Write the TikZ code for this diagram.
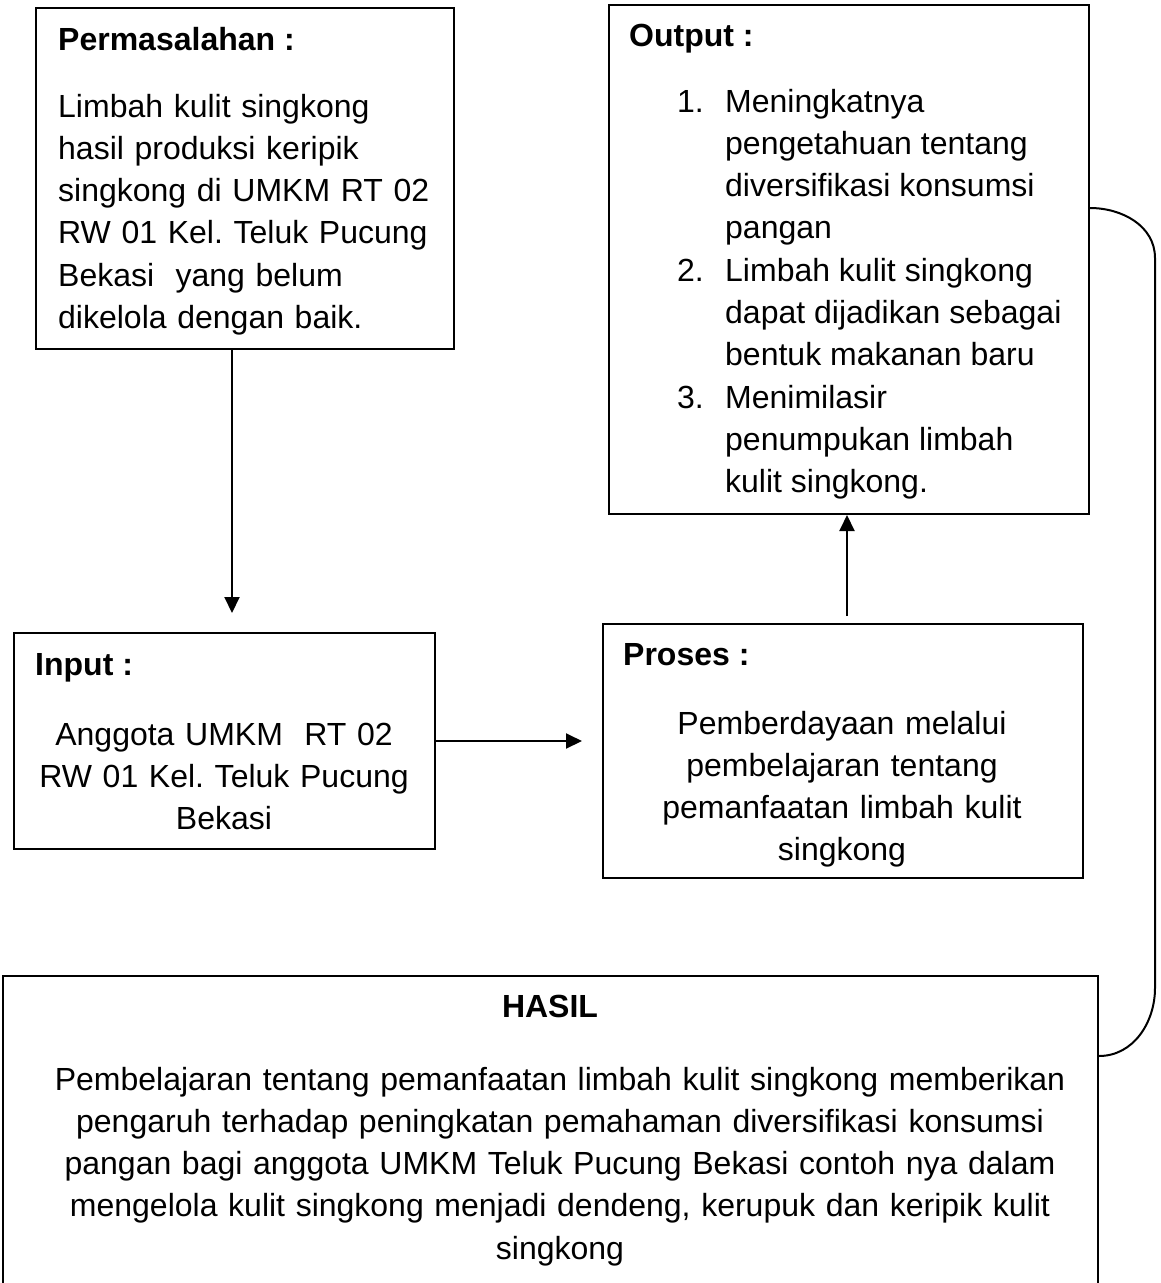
\documentclass[tikz,border=0pt]{standalone}
\usepackage{fontspec}
\setmainfont{Liberation Sans}
\usetikzlibrary{arrows.meta, positioning}
\frenchspacing

\begin{document}
\begin{tikzpicture}[
  x=1pt, y=-1pt,
  font=\fontsize{32}{42.3}\selectfont,
  >={Triangle[length=16pt, width=15pt]},
  box/.style={draw, line width=2pt, anchor=north west, inner sep=0pt},
  head/.style={anchor=base west, inner sep=0pt,
               font=\fontsize{32}{42.3}\selectfont\bfseries},
  body/.style={anchor=base west, inner sep=0pt, text width=#1, align=left},
  midtext/.style={anchor=base, inner sep=0pt, text width=#1, align=center},
  arr/.style={->, line width=2pt},
  ]
\useasboundingbox (0,0) rectangle (1160,1283);
\clip (0,0) rectangle (1160,1283);

% kotak
\node[box, minimum width=418, minimum height=341] (masalah) at (35,7) {};
\node[box, minimum width=480, minimum height=509] (output) at (608,4) {};
\node[box, minimum width=421, minimum height=216] (input) at (13,632) {};
\node[box, minimum width=480, minimum height=254] (proses) at (602,623) {};
\node[box, minimum width=1095, minimum height=400] (hasil) at (2,975) {};

% teks
\node[head] (masalahHead) at (58,50) {Permasalahan :};
\node[body=390] (masalahText) at (58,117) {Limbah kulit singkong\\
  hasil produksi keripik\\
  singkong di UMKM RT 02\\
  RW 01 Kel. Teluk Pucung\\
  Bekasi~ yang belum\\
  dikelola dengan baik.};

\node[head] (outputHead) at (629,46) {Output :};
\node[anchor=base west, inner sep=0pt] (outputList) at (677,112) {%
  \begin{tabular}[t]{@{}p{48pt}@{}l@{}}
  1. & Meningkatnya\\
     & pengetahuan tentang\\
     & diversifikasi konsumsi\\
     & pangan\\
  2. & Limbah kulit singkong\\
     & dapat dijadikan sebagai\\
     & bentuk makanan baru\\
  3. & Menimilasir\\
     & penumpukan limbah\\
     & kulit singkong.
  \end{tabular}};

\node[head] (inputHead) at (35,675) {Input :};
\node[midtext=410] (inputText) at (224,745) {Anggota UMKM~ RT 02\\
  RW 01 Kel. Teluk Pucung\\
  Bekasi};

\node[head] (prosesHead) at (623,665) {Proses :};
\node[midtext=460] (prosesText) at (842,734) {Pemberdayaan melalui\\
  pembelajaran tentang\\
  pemanfaatan limbah kulit\\
  singkong};

\node[head, anchor=base] (hasilHead) at (550,1017) {HASIL};
\node[midtext=1090] (hasilText) at (560,1090) {Pembelajaran tentang pemanfaatan limbah kulit singkong memberikan\\
  pengaruh terhadap peningkatan pemahaman diversifikasi konsumsi\\
  pangan bagi anggota UMKM Teluk Pucung Bekasi contoh nya dalam\\
  mengelola kulit singkong menjadi dendeng, kerupuk dan keripik kulit\\
  singkong};

% panah
\draw[arr, shorten >=19pt] ([xshift=-13pt]masalah.south) -- ([xshift=-13pt]masalah.south |- input.north);
\draw[arr, shorten >=20pt] (input.east) -- (input.east -| proses.west);
\draw[arr, shorten <=7pt] ([xshift=4pt]proses.north) -- ([xshift=4pt]proses.north |- output.south);
\draw[line width=2pt] ([yshift=51.5pt]output.east) to[out=0, in=90] ++(65,50)
  -- ++(0,730) to[out=-90, in=0] ([yshift=120pt]hasil.east);
\end{tikzpicture}
\end{document}
